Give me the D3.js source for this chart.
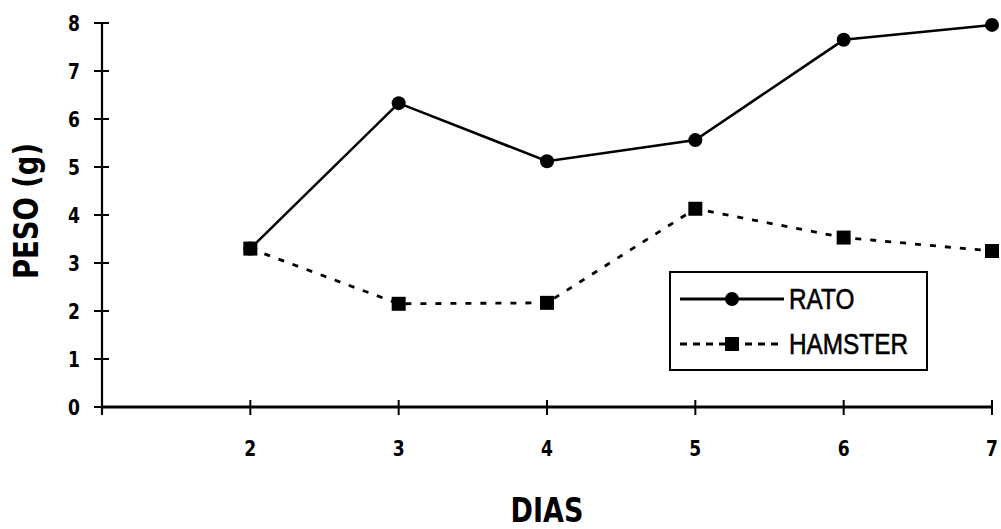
<!DOCTYPE html>
<html>
<head>
<meta charset="utf-8">
<script src="https://cdn.jsdelivr.net/npm/d3@7/dist/d3.min.js"></script>
<style>
  html, body { margin: 0; padding: 0; background: #fff; }
  svg { display: block; }
  .tick-label { font-family: "DejaVu Sans", "Liberation Sans", sans-serif; font-weight: bold; font-size: 22px; fill: #000; }
  .axis-title { font-family: "DejaVu Sans", "Liberation Sans", sans-serif; font-weight: bold; fill: #000; }
  .legend-text { font-family: "Liberation Sans", Arial, sans-serif; font-size: 29px; fill: #000; stroke: #000; stroke-width: 0.6; }
</style>
</head>
<body>
<svg id="chart" width="1001" height="529"></svg>
<script>
// Days on the x axis and body weight (g) per animal
const dias = [2, 3, 4, 5, 6, 7];
const rato = [3.3, 6.33, 5.12, 5.56, 7.65, 7.96];
const hamster = [3.3, 2.15, 2.17, 4.13, 3.53, 3.25];
const yTicks = [0, 1, 2, 3, 4, 5, 6, 7, 8];
const xTicks = [1, 2, 3, 4, 5, 6, 7];
const xTickLabels = ["", "2", "3", "4", "5", "6", "7"];
const seriesNames = ["RATO", "HAMSTER"];

const svg = d3.select("#chart");

const x = d3.scaleLinear().domain([1, 7]).range([102, 992]);
const y = d3.scaleLinear().domain([0, 8]).range([407, 23]);

// Narrow bold label centred on (cx, cy)
function narrowText(g, cx, cy, txt, cls, sx) {
  return g.append("text")
    .attr("class", cls)
    .attr("transform", `translate(${cx},${cy}) scale(${sx},1)`)
    .attr("text-anchor", "middle")
    .attr("dy", "0.36em")
    .text(txt);
}

// Y axis: vertical line with ticks crossing it
const yAxis = svg.append("g");
yAxis.append("line")
  .attr("x1", x(1)).attr("x2", x(1))
  .attr("y1", y(8)).attr("y2", y(0) + 7)
  .attr("stroke", "#000").attr("stroke-width", 2.2);
yAxis.selectAll("line.yt").data(yTicks).join("line")
  .attr("class", "yt")
  .attr("x1", x(1) - 8).attr("x2", x(1) + 7)
  .attr("y1", d => y(d)).attr("y2", d => y(d))
  .attr("stroke", "#000").attr("stroke-width", 2);
yTicks.forEach(d => narrowText(yAxis, x(1) - 28, y(d), d, "tick-label", 0.78));

// X axis
const xAxis = svg.append("g");
xAxis.append("line")
  .attr("x1", x(1)).attr("x2", x(7))
  .attr("y1", y(0)).attr("y2", y(0))
  .attr("stroke", "#000").attr("stroke-width", 3);
xAxis.selectAll("line.xt").data(xTicks).join("line")
  .attr("class", "xt")
  .attr("x1", d => x(d)).attr("x2", d => x(d))
  .attr("y1", y(0) - 7).attr("y2", y(0) + 8)
  .attr("stroke", "#000").attr("stroke-width", 2);
xTicks.forEach((d, i) => narrowText(xAxis, x(d), 448, xTickLabels[i], "tick-label", 0.78));

// Axis titles
svg.append("text")
  .attr("class", "axis-title")
  .attr("transform", "translate(38,211) rotate(-90) scale(0.83,1)")
  .attr("text-anchor", "middle")
  .style("font-size", "33px")
  .text("PESO (g)");
svg.append("text")
  .attr("class", "axis-title")
  .attr("transform", `translate(${x(4)},522) scale(0.82,1)`)
  .attr("text-anchor", "middle")
  .style("font-size", "33px")
  .text("DIAS");

const line = d3.line().x(d => x(d[0])).y(d => y(d[1]));
const ratoPts = dias.map((d, i) => [d, rato[i]]);
const hamPts = dias.map((d, i) => [d, hamster[i]]);

// RATO: solid line with round markers
svg.append("path")
  .datum(ratoPts)
  .attr("d", line)
  .attr("fill", "none")
  .attr("stroke", "#000")
  .attr("stroke-width", 2.6);
svg.selectAll("circle.rato").data(ratoPts).join("circle")
  .attr("class", "rato")
  .attr("cx", d => x(d[0])).attr("cy", d => y(d[1]))
  .attr("r", 7)
  .attr("fill", "#000");

// HAMSTER: dashed line with square markers
svg.append("path")
  .datum(hamPts)
  .attr("d", line)
  .attr("fill", "none")
  .attr("stroke", "#000")
  .attr("stroke-width", 2.8)
  .attr("stroke-dasharray", "6,9");
svg.selectAll("rect.ham").data(hamPts).join("rect")
  .attr("class", "ham")
  .attr("x", d => x(d[0]) - 7).attr("y", d => y(d[1]) - 7)
  .attr("width", 14).attr("height", 14)
  .attr("fill", "#000");

// Legend
const lg = svg.append("g");
lg.append("rect")
  .attr("x", 670).attr("y", 272)
  .attr("width", 257).attr("height", 98)
  .attr("fill", "#fff")
  .attr("stroke", "#000").attr("stroke-width", 2);
const rows = [
  { name: seriesNames[0], yy: 299, dash: null, marker: "circle" },
  { name: seriesNames[1], yy: 344, dash: "7,6", marker: "square" }
];
rows.forEach(r => {
  lg.append("line")
    .attr("x1", 680).attr("x2", 784)
    .attr("y1", r.yy).attr("y2", r.yy)
    .attr("stroke", "#000").attr("stroke-width", 3)
    .attr("stroke-dasharray", r.dash);
  if (r.marker === "circle") {
    lg.append("circle").attr("cx", 732).attr("cy", r.yy).attr("r", 7).attr("fill", "#000");
  } else {
    lg.append("rect").attr("x", 725).attr("y", r.yy - 7).attr("width", 14).attr("height", 14).attr("fill", "#000");
  }
  lg.append("text")
    .attr("class", "legend-text")
    .attr("transform", `translate(789,${r.yy}) scale(0.84,1)`)
    .attr("dy", "0.36em")
    .text(r.name);
});
</script>
</body>
</html>
